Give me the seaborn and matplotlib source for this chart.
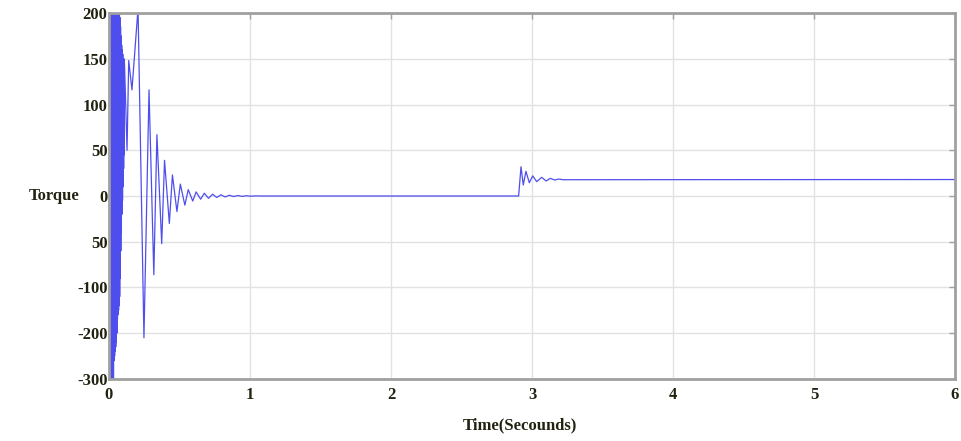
import seaborn as sns
import matplotlib.pyplot as plt
import pandas as pd

# tempi (s) e coppia (unita' della scala disegnata)
time_s = [0.000, 0.002, 0.004, 0.006, 0.008, 0.010, 0.012, 0.014, 0.016, 0.018,
          0.020, 0.022, 0.024, 0.026, 0.028, 0.030, 0.032, 0.034, 0.036, 0.038,
          0.040, 0.042, 0.044, 0.046, 0.048, 0.050, 0.052, 0.054, 0.056, 0.058,
          0.060, 0.062, 0.064, 0.066, 0.068, 0.070, 0.072, 0.074, 0.076, 0.078,
          0.080, 0.082, 0.084, 0.086, 0.088, 0.090, 0.092, 0.094, 0.096, 0.098,
          0.100, 0.102, 0.104, 0.106, 0.108, 0.110,
          0.128, 0.140, 0.163, 0.206, 0.248, 0.284, 0.318, 0.340, 0.374, 0.394,
          0.428, 0.450, 0.482, 0.506, 0.538, 0.562, 0.594, 0.618, 0.650, 0.676,
          0.706, 0.735, 0.764, 0.794, 0.824, 0.854, 0.884, 0.914, 0.944, 0.975,
          1.005, 1.040, 1.100, 2.905, 2.922, 2.938, 2.957, 2.981, 3.005, 3.033,
          3.069, 3.100, 3.130, 3.160, 3.190, 3.220, 6.000]
torque = [0, 250, -260, 250, -260, 250, -250, 250, -250, 250,
          -240, 250, -230, 240, -220, 240, -200, 240, -180, 230,
          -175, 230, -170, 220, -165, 220, -160, 215, -150, 210,
          -135, 210, -130, 205, -125, 205, -120, 200, -110, 195,
          -90, 185, -60, 175, -40, 165, -20, 160, -5, 155,
          10, 150, 30, 150, 45, 145,
          50, 148, 116, 205, -155, 116, -86, 67, -52, 39,
          -30, 23, -17, 13, -10, 7, -5.5, 4.5, -3.5, 3,
          -2.5, 2, -1.6, 1.3, -1, 0.8, -0.6, 0.5, -0.4, 0.3,
          -0.2, 0.1, 0, 0, 32, 12, 27, 14.5, 22, 15.7,
          20.4, 16.4, 19.3, 17.5, 18.5, 17.8, 18]

# asse y con etichette non uniformi come nell'originale
ytick_pos = [200, 150, 100, 50, 0, -50, -100, -150, -200]
ytick_lab = ['200', '150', '100', '50', '0', '50', '-100', '-200', '-300']
xtick_pos = [0, 1, 2, 3, 4, 5, 6]

df = pd.DataFrame({'t': time_s, 'torque': torque})

sns.set_style('whitegrid')
plt.rcParams['font.family'] = ['Liberation Serif', 'DejaVu Serif']

fig = plt.figure(figsize=(9.61, 4.41), dpi=100)
ax = fig.add_axes([0.1134, 0.1406, 0.8804, 0.8299])

sns.lineplot(data=df, x='t', y='torque', ax=ax, color='#4e4eee',
             linewidth=0.9, estimator=None, sort=False)

ax.set_xlim(0, 6)
ax.set_ylim(-200, 200)
ax.set_xticks(xtick_pos)
ax.set_xticklabels([str(v) for v in xtick_pos])
ax.set_yticks(ytick_pos)
ax.set_yticklabels(ytick_lab)

ax.grid(True, color='#e2e2e2', linewidth=1)
for s in ax.spines.values():
    s.set_color('#a0a0a0')
    s.set_linewidth(2)

ax.tick_params(axis='both', direction='in', length=4, width=1, color='#a0a0a0',
               labelsize=12, labelcolor='#222211', right=True, top=True)
ax.tick_params(axis='y', pad=1)
ax.tick_params(axis='x', pad=6)
for lab in ax.get_xticklabels() + ax.get_yticklabels():
    lab.set_fontweight('bold')

ax.set_xlabel('Time(Secounds)', fontsize=12, fontweight='bold', color='#222211')
ax.xaxis.set_label_coords(0.486, -0.104)
ax.set_ylabel('Torque', fontsize=12, fontweight='bold', color='#222211',
              rotation=0, ha='right', va='center')
ax.yaxis.set_label_coords(-0.035, 0.5)

plt.savefig('out.png', dpi=100)
